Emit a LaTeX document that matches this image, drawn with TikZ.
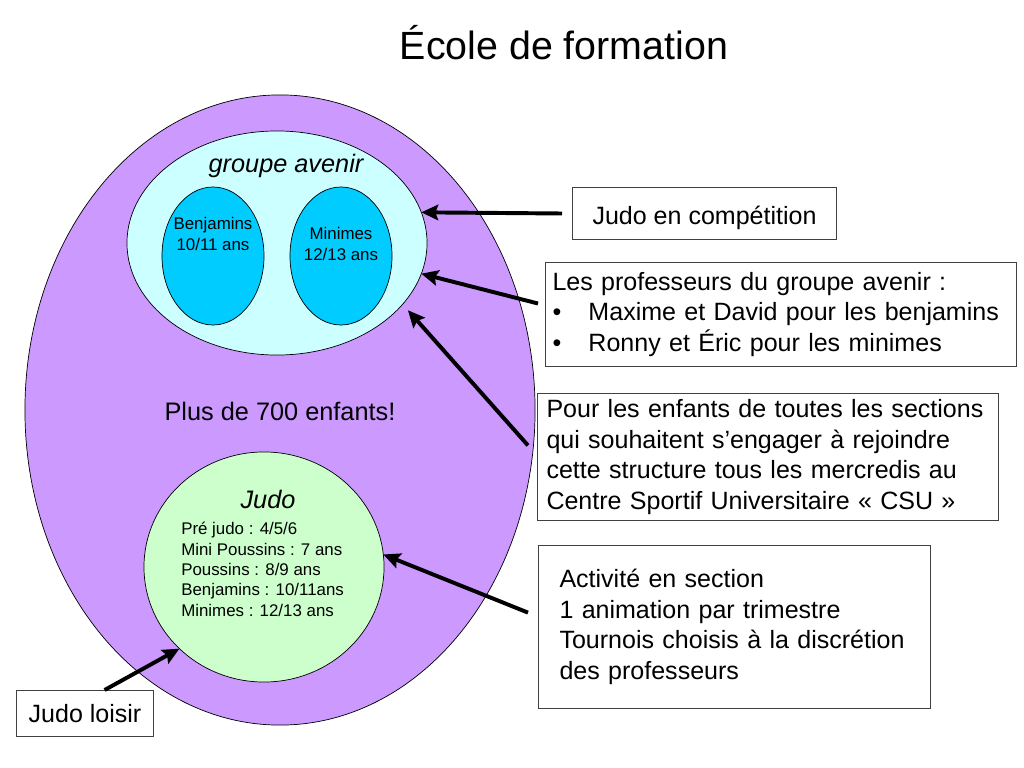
\documentclass[tikz,border=0pt]{standalone}
\usepackage{fontspec}
\setmainfont{Liberation Sans}
\usepackage{tikz}
\usetikzlibrary{shapes.geometric}
\usetikzlibrary{arrows.meta}
\definecolor{mauve}{HTML}{CC99FF}
\definecolor{ciel}{HTML}{CCFFFF}
\definecolor{bleu}{HTML}{00CCFF}
\definecolor{vert}{HTML}{CCFFCC}

\begin{document}
\begin{tikzpicture}[x=0.025cm, y=-0.025cm,
	ell/.style={draw, ellipse, inner sep=0pt, outer sep=0pt, line width=0.5pt},
	boite/.style={draw=black!75, fill=white, line width=0.7pt, anchor=north west,
		align=left, font=\fontsize{17.8}{21.8}\selectfont},
	grand/.style={font=\fontsize{18}{22}\selectfont},
	penche/.style={font=\fontsize{18}{22}\selectfont\itshape},
	petit/.style={font=\fontsize{12}{14.5}\selectfont, align=center},
	fleche/.style={line width=2.8pt, -{Stealth[length=12pt, width=11pt, inset=2pt]}}]
	\useasboundingbox (0,0) rectangle (1024,768);
	\node[font=\fontsize{28}{34}\selectfont] (titre) at (564,43) {École de formation};
	\node[ell, fill=mauve, minimum width=12.75cm, minimum height=15.75cm] (ecole) at (280,410) {};
	\node[ell, fill=ciel, minimum width=7.5cm, minimum height=5.6cm] (avenir) at (277,243) {};
	\node[ell, fill=bleu, minimum width=2.55cm, minimum height=3.45cm] (benj) at (213,256) {};
	\node[ell, fill=bleu, minimum width=2.55cm, minimum height=3.45cm] (mini) at (341,256) {};
	\node[ell, fill=vert, minimum width=6cm, minimum height=5.75cm] (judo) at (264,567) {};
	\node[penche] (tavenir) at (286,166) {groupe avenir};
	\node[petit] (tbenj) at (213,234) {Benjamins\\10/11 ans};
	\node[petit] (tmini) at (341,244) {Minimes\\12/13 ans};
	\node[grand] (tplus) at (280,411) {Plus de 700 enfants!};
	\node[penche] (tjudo) at (268,499) {Judo};
	\node[petit, align=left, anchor=north west, inner sep=0pt] (tliste) at (181,522)
		{Pré judo : 4/5/6\\Mini Poussins : 7 ans\\Poussins : 8/9 ans\\Benjamins : 10/11ans\\Minimes : 12/13 ans};
	\node[boite, align=center, minimum width=6.6cm, minimum height=1.3cm, text height=0.6cm, text depth=0.05cm] (comp) at (572,187) {Judo en compétition};
	\node[boite, text width=11.425cm, minimum height=2.6cm, inner xsep=0.175cm] (profs) at (545,262)
		{Les professeurs du groupe avenir :\\\makebox[0.9cm][l]{•}Maxime et David pour les benjamins\\\makebox[0.9cm][l]{•}Ronny et Éric pour les minimes};
	\node[boite, text width=11.075cm, minimum height=3.175cm, inner xsep=0.225cm] (sections) at (537,393)
		{Pour les enfants de toutes les sections\\qui souhaitent s’engager à rejoindre\\cette structure tous les mercredis au\\Centre Sportif Universitaire « CSU »};
	\node[boite, text width=8.75cm, minimum height=4.075cm, inner xsep=0.525cm] (activite) at (538,545)
		{Activité en section\\1 animation par trimestre\\Tournois choisis à la discrétion\\des professeurs};
	\node[boite, align=center, minimum width=3.425cm, minimum height=1.15cm] (loisir) at (16,690) {Judo loisir};
	\draw[fleche] ([xshift=-0.25cm]comp.west) -- (avenir.12);
	\draw[fleche] ([shift={(-0.175cm,0.275cm)}]profs.west) -- (avenir.-12);
	\draw[fleche, shorten >=0.2cm] ([shift={(-0.225cm,0.29cm)}]sections.west) -- (avenir.-26);
	\draw[fleche] ([shift={(-0.25cm,0.36cm)}]activite.west) -- (judo.6);
	\draw[fleche] ([xshift=0.49cm]loisir.north) -- (judo.-136);
\end{tikzpicture}
\end{document}
